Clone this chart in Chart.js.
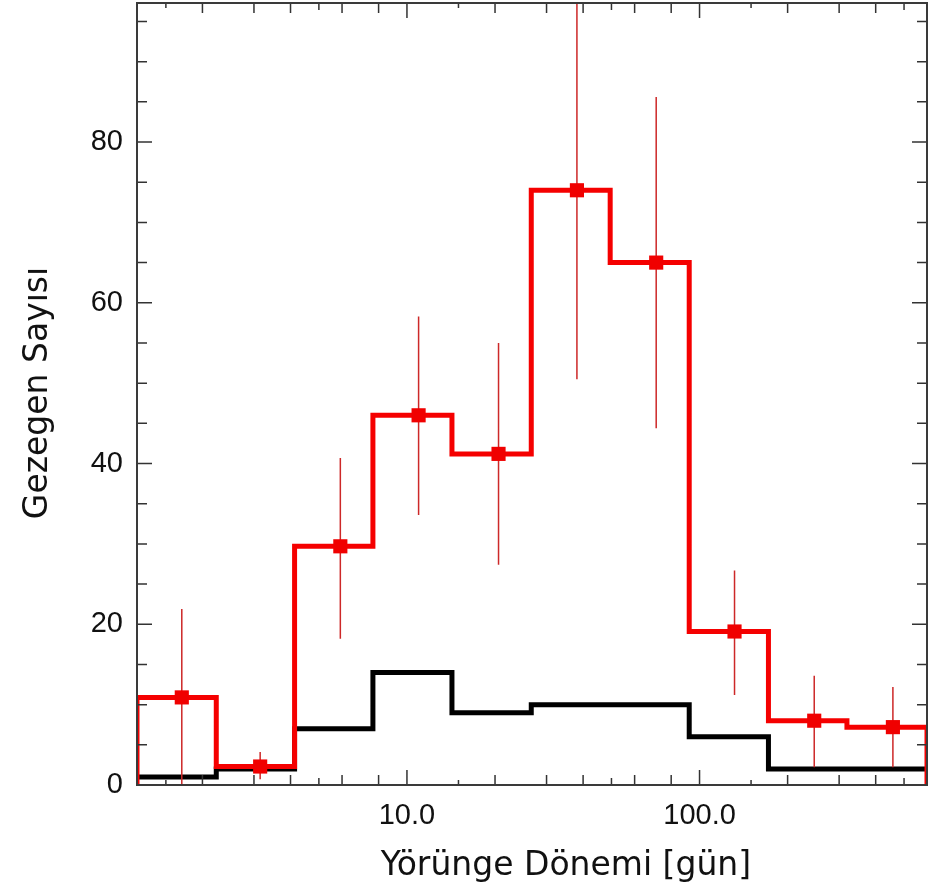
<!DOCTYPE html>
<html>
<head>
<meta charset="utf-8">
<script src="https://cdn.jsdelivr.net/npm/chart.js@4.4.1/dist/chart.umd.min.js"></script>
<style>
  html, body { margin: 0; padding: 0; background: #fff; }
  #wrap { width: 947px; height: 887px; position: relative; }
</style>
</head>
<body>
<div id="wrap"><canvas id="periodChart"></canvas></div>
<script>
// ============================================================================
// PLANET COUNT vs ORBITAL PERIOD (log-binned histogram)
// ============================================================================

// Bin edges along the orbital period axis [days]
const binEdges = [1.195, 2.23, 4.13, 7.65, 14.25, 26.6, 49.5, 92.2, 172, 319, 599];

// Red histogram (with markers and error bars)
const redCounts = [10.9, 2.3, 29.7, 46, 41.2, 74, 65, 19.1, 8, 7.2];
const markerPeriods = [1.70, 3.15, 5.92, 10.96, 20.56, 38.1, 71.1, 131.7, 246.6, 458];
const errLow = [0, 0.7, 18.2, 33.6, 27.4, 50.5, 44.4, 11.2, 2.2, 2.2];
const errHigh = [21.9, 4.1, 40.7, 58.3, 55, 98, 85.6, 26.7, 13.6, 12.2];

// Black histogram
const blackCounts = [1, 2, 7, 14, 9, 10, 10, 6, 2, 2];

// Axis ticks
const xLabelTicks = [10, 100];
const xMinorTicks = [1.5, 2, 3, 4, 5, 6, 8, 15, 20, 30, 40, 50, 60, 80, 150, 200, 300, 400, 500];
const yLabelTicks = [0, 20, 40, 60, 80];
const yMinorStep = 5;

const xTitle = 'Yörünge Dönemi [gün]';
const yTitle = 'Gezegen Sayısı';

/**
 * Turn bin edges + counts into step points
 */
function stepPoints(edges, counts, closeToZero) {
  const pts = [];
  if (closeToZero) pts.push({ x: edges[0], y: 0 });
  counts.forEach((c, i) => {
    pts.push({ x: edges[i], y: c });
    pts.push({ x: edges[i + 1], y: c });
  });
  if (closeToZero) pts.push({ x: edges[edges.length - 1], y: 0 });
  return pts;
}

// Error bars as one line dataset separated by gaps
const errorPoints = [];
markerPeriods.forEach((p, i) => {
  errorPoints.push({ x: p, y: errLow[i] });
  errorPoints.push({ x: p, y: errHigh[i] });
  errorPoints.push({ x: p, y: null });
});

// Frame, inward ticks and axis titles
const framePlugin = {
  id: 'frame',
  afterDatasetsDraw(chart) {
    const { ctx, chartArea: a, scales: { x, y } } = chart;
    ctx.save();
    ctx.strokeStyle = '#333';
    ctx.lineWidth = 1.5;
    ctx.beginPath();
    const xTick = (v, len) => {
      const px = x.getPixelForValue(v);
      ctx.moveTo(px, a.bottom); ctx.lineTo(px, a.bottom - len);
      ctx.moveTo(px, a.top); ctx.lineTo(px, a.top + len);
    };
    xLabelTicks.forEach(v => xTick(v, 15));
    xMinorTicks.forEach(v => {
      const lead = v / Math.pow(10, Math.floor(Math.log10(v)));
      xTick(v, lead === 1.5 ? 5 : (lead === 5 ? 7 : 10));
    });
    for (let v = 0; v <= y.max; v += yMinorStep) {
      const py = y.getPixelForValue(v);
      const len = (v % 20 === 0) ? 15 : 10;
      ctx.moveTo(a.left, py); ctx.lineTo(a.left + len, py);
      ctx.moveTo(a.right, py); ctx.lineTo(a.right - len, py);
    }
    ctx.stroke();

    ctx.lineWidth = 2;
    ctx.strokeStyle = '#3a3a3a';
    ctx.strokeRect(a.left, a.top, a.right - a.left, a.bottom - a.top);

    ctx.fillStyle = '#111';
    ctx.font = '33px "DejaVu Sans"';
    ctx.textAlign = 'center';
    ctx.textBaseline = 'alphabetic';
    ctx.fillText(xTitle, 566, 875);

    ctx.translate(47, 393);
    ctx.rotate(-Math.PI / 2);
    ctx.fillText(yTitle, 0, 0);
    ctx.restore();
  }
};

const ctx = document.getElementById('periodChart').getContext('2d');

new Chart(ctx, {
  type: 'line',
  data: {
    datasets: [
      {
        label: 'markers',
        data: markerPeriods.map((p, i) => ({ x: p, y: redCounts[i] })),
        showLine: false,
        pointStyle: 'rect',
        pointRadius: 10,
        pointBorderWidth: 0,
        pointBackgroundColor: 'rgb(240, 0, 0)',
        order: 0
      },
      {
        label: 'errors',
        data: errorPoints,
        borderColor: 'rgb(205, 40, 40)',
        borderWidth: 1.5,
        pointRadius: 0,
        spanGaps: false,
        order: 1
      },
      {
        label: 'red',
        data: stepPoints(binEdges, redCounts, true),
        borderColor: 'rgb(245, 0, 0)',
        borderWidth: 5,
        pointRadius: 0,
        borderJoinStyle: 'miter',
        order: 2
      },
      {
        label: 'black',
        data: stepPoints(binEdges, blackCounts, false),
        borderColor: '#000',
        borderWidth: 5,
        pointRadius: 0,
        borderJoinStyle: 'miter',
        order: 3
      }
    ]
  },
  options: {
    responsive: true,
    maintainAspectRatio: false,
    animation: false,
    layout: { autoPadding: false, padding: { top: 3, right: 20, left: 0, bottom: 0 } },
    plugins: {
      legend: { display: false },
      tooltip: { enabled: false }
    },
    scales: {
      x: {
        type: 'logarithmic',
        min: binEdges[0],
        max: binEdges[binEdges.length - 1],
        grid: { display: false, drawTicks: false },
        border: { display: false },
        afterBuildTicks: scale => { scale.ticks = xLabelTicks.map(v => ({ value: v })); },
        afterFit: scale => {
          scale.height = 102;
          scale.paddingLeft = 0;
          scale.paddingRight = 0;
        },
        ticks: {
          autoSkip: false,
          maxRotation: 0,
          padding: 14,
          color: '#111',
          font: { family: '"Liberation Sans", Arial, sans-serif', size: 29 },
          callback: v => Number(v).toFixed(1)
        }
      },
      y: {
        type: 'linear',
        min: 0,
        max: 97.3,
        grid: { display: false, drawTicks: false },
        border: { display: false },
        afterBuildTicks: scale => { scale.ticks = yLabelTicks.map(v => ({ value: v })); },
        afterFit: scale => {
          scale.width = 137;
          scale.paddingTop = 0;
          scale.paddingBottom = 0;
        },
        ticks: {
          padding: 14,
          color: '#111',
          font: { family: '"Liberation Sans", Arial, sans-serif', size: 29 },
          callback: v => String(v)
        }
      }
    }
  },
  plugins: [framePlugin]
});
</script>
</body>
</html>
